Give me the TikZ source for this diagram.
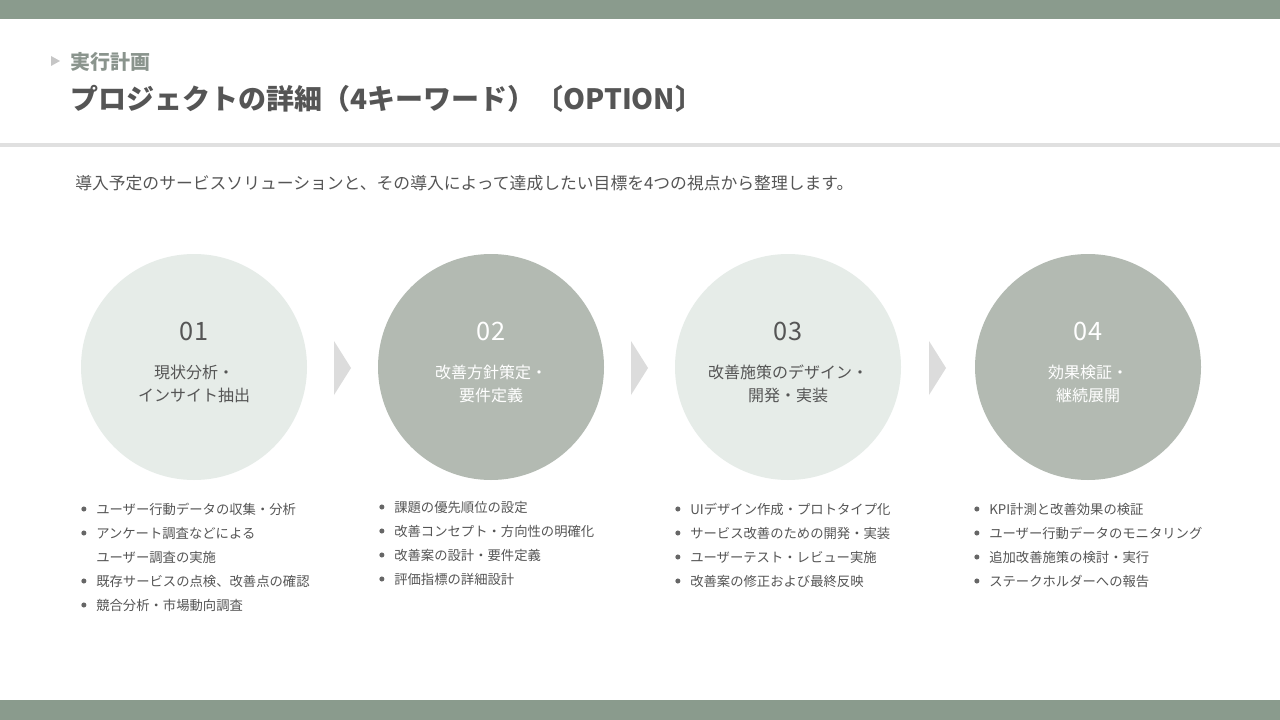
\documentclass[tikz,border=0pt]{standalone}
\usepackage{fontspec}
\setmainfont{Noto Sans CJK JP}
\usepackage{tikz}
\usepackage{xcolor}

\definecolor{barc}{HTML}{8A9B8D}
\definecolor{linec}{HTML}{E0E0E0}
\definecolor{txt}{HTML}{555555}
\definecolor{subc}{HTML}{8A948D}
\definecolor{lightc}{HTML}{E6ECE8}
\definecolor{darkc}{HTML}{B3BAB2}
\definecolor{chevc}{HTML}{DCDCDC}
\definecolor{dotc}{HTML}{666666}

\tikzset{
  step circle/.style={circle, minimum size=169.5pt, inner sep=0pt},
  num/.style={font=\fontsize{19}{20}\selectfont},
  steplabel/.style={align=center, font=\fontsize{12}{17.25}\selectfont},
  item/.style={anchor=west, inner sep=0pt, text=txt, font=\fontsize{10}{12}\selectfont,
    label={[circle, fill=dotc, inner sep=0pt, minimum size=3.8pt, label distance=7pt]west:{}}},
  itemcont/.style={anchor=west, inner sep=0pt, text=txt, font=\fontsize{10}{12}\selectfont}
}

\begin{document}
\begin{tikzpicture}[x=0.75pt,y=-0.75pt]
  \useasboundingbox (0,0) rectangle (1280,720);
  \fill[white] (0,0) rectangle (1280,720);
  % bars and rule
  \fill[barc] (0,0) rectangle (1280,19);
  \fill[barc] (0,700) rectangle (1280,720);
  \fill[linec] (0,143) rectangle (1280,147);

  % heading
  \fill[gray!45] (51,56)--(60,61)--(51,66)--cycle;
  \node[anchor=west, inner sep=0pt, text=subc, font=\fontsize{15}{18}\selectfont\bfseries] (sub) at (70,62) {実行計画};
  \node[anchor=west, inner sep=0pt, text=txt, font=\fontsize{21}{25}\selectfont\bfseries] (title) at (70,99) {プロジェクトの詳細（4キーワード）〔OPTION〕};
  \node[anchor=west, inner sep=0pt, text=txt, font=\fontsize{12.6}{15}\selectfont] (desc) at (75,183) {導入予定のサービスソリューションと、その導入によって達成したい目標を4つの視点から整理します。};

  % circles
  \node[step circle, fill=lightc] (c1) at (194,367) {};
  \node[step circle, fill=darkc] (c2) at (491,367) {};
  \node[step circle, fill=lightc] (c3) at (788,367) {};
  \node[step circle, fill=darkc] (c4) at (1088,367) {};

  \node[num, text=txt] (n1) at (194,331) {01};
  \node[num, text=white] (n2) at (491,331) {02};
  \node[num, text=txt] (n3) at (788,331) {03};
  \node[num, text=white] (n4) at (1088,331) {04};

  \node[steplabel, text=txt] (l1) at (194,384) {現状分析・\\インサイト抽出};
  \node[steplabel, text=white] (l2) at (491,384) {改善方針策定・\\要件定義};
  \node[steplabel, text=txt] (l3) at (788,384) {改善施策のデザイン・\\開発・実装};
  \node[steplabel, text=white] (l4) at (1088,384) {効果検証・\\継続展開};

  % chevrons
  \fill[chevc] (334,341)--(351,368)--(334,395)--cycle;
  \fill[chevc] (631,341)--(648,368)--(631,395)--cycle;
  \fill[chevc] (929,341)--(946,368)--(929,395)--cycle;

  % lists
  \node[item] (a1) at (96,509) {ユーザー行動データの収集・分析};
  \node[item] (a2) at (96,533) {アンケート調査などによる};
  \node[itemcont] (a3) at (96,557) {ユーザー調査の実施};
  \node[item] (a4) at (96,581) {既存サービスの点検、改善点の確認};
  \node[item] (a5) at (96,605) {競合分析・市場動向調査};

  \node[item] (b1) at (394,507) {課題の優先順位の設定};
  \node[item] (b2) at (394,531) {改善コンセプト・方向性の明確化};
  \node[item] (b3) at (394,555) {改善案の設計・要件定義};
  \node[item] (b4) at (394,579) {評価指標の詳細設計};

  \node[item] (d1) at (690,509) {UIデザイン作成・プロトタイプ化};
  \node[item] (d2) at (690,533) {サービス改善のための開発・実装};
  \node[item] (d3) at (690,557) {ユーザーテスト・レビュー実施};
  \node[item] (d4) at (690,581) {改善案の修正および最終反映};

  \node[item] (e1) at (989,509) {KPI計測と改善効果の検証};
  \node[item] (e2) at (989,533) {ユーザー行動データのモニタリング};
  \node[item] (e3) at (989,557) {追加改善施策の検討・実行};
  \node[item] (e4) at (989,581) {ステークホルダーへの報告};
\end{tikzpicture}
\end{document}
